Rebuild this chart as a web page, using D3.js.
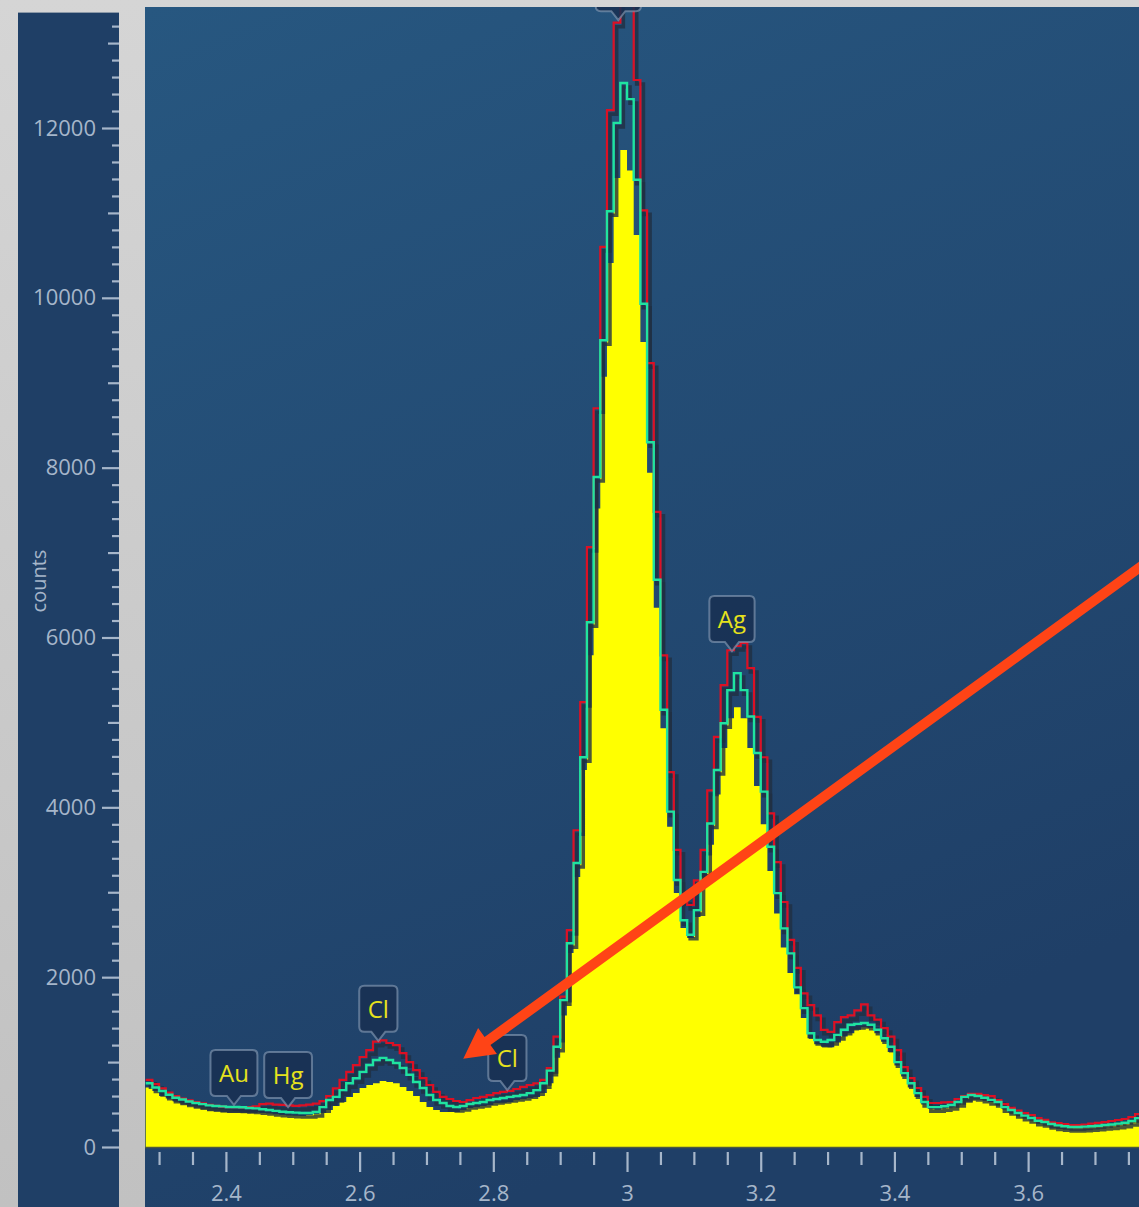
<!DOCTYPE html>
<html><head><meta charset="utf-8">
<script src="https://cdn.jsdelivr.net/npm/d3@7"></script>
<style>
html,body{margin:0;padding:0;overflow:hidden;background:#cfcfcf}
svg{display:block;font-family:"Open Sans","Noto Sans",sans-serif}
</style>
</head><body>
<svg id="c" width="1139" height="1207"></svg>
<script>
// ---------------- data ----------------
const energyStart = 2.28;      // keV, first channel start
const channelWidth = 0.01;     // keV per channel

const spectrumYellow = [
  700, 660, 600, 570, 540, 520, 500, 483, 470, 460,
  450, 440, 436, 425, 415, 410, 405, 400, 395, 385,
  377, 372, 368, 365, 377, 390, 400, 436, 483, 530,
  590, 635, 695, 730, 750, 777, 765, 750, 707, 660,
  600, 530, 471, 436, 412, 412, 412, 436, 460, 471,
  483, 495, 518, 520, 530, 553, 565, 577, 590, 635,
  750, 1050, 1550, 2285, 3180, 4440, 5790, 7520, 9070, 10410,
  11410, 11740, 11500, 10740, 9480, 7940, 6350, 4930, 3770, 2990,
  2580, 2460, 2710, 3180, 3560, 4150, 4700, 5050, 5180, 5050,
  4700, 4250, 3800, 3250, 2750, 2350, 2050, 1800, 1520, 1280,
  1210, 1180, 1175, 1230, 1300, 1340, 1380, 1410, 1400, 1340,
  1240, 1120, 960, 830, 700, 590, 500, 450, 440, 455,
  470, 500, 550, 580, 575, 560, 530, 500, 450, 410,
  380, 350, 320, 295, 275, 255, 240, 230, 225, 225,
  228, 232, 238, 245, 252, 260, 270, 290, 320
];

const spectrumGreen = [
  750, 700, 660, 615, 580, 560, 535, 518, 505, 490,
  483, 478, 471, 471, 468, 460, 455, 445, 436, 425,
  415, 410, 405, 400, 400, 412, 470, 553, 590, 670,
  750, 810, 885, 965, 1025, 1050, 1025, 990, 930, 850,
  765, 695, 612, 553, 518, 483, 471, 483, 506, 518,
  530, 553, 565, 577, 590, 600, 612, 635, 670, 750,
  900, 1180, 1730, 2400, 3345, 4590, 6180, 7890, 9500, 11020,
  12060, 12530, 12340, 11390, 9930, 8300, 6680, 5150, 3950, 3145,
  2670, 2500, 2790, 3240, 3810, 4440, 4990, 5380, 5580, 5380,
  5070, 4640, 4185, 3535, 2990, 2575, 2280, 1880, 1635, 1340,
  1260, 1240, 1260, 1320, 1380, 1440, 1450, 1460, 1440, 1380,
  1280, 1180, 1000, 870, 750, 635, 530, 470, 470, 480,
  495, 530, 590, 612, 600, 580, 555, 530, 470, 436,
  400, 370, 342, 310, 294, 270, 255, 245, 235, 235,
  240, 245, 250, 259, 265, 275, 285, 306, 340
];

const spectrumRed = [
  790, 740, 690, 640, 600, 570, 550, 530, 515, 495,
  485, 475, 470, 470, 465, 470, 480, 505, 510, 500,
  495, 490, 485, 490, 500, 510, 540, 600, 690, 790,
  885, 965, 1060, 1140, 1240, 1255, 1225, 1200, 1105, 1000,
  905, 810, 730, 650, 590, 565, 542, 530, 553, 577,
  590, 612, 635, 650, 660, 683, 707, 730, 750, 790,
  930, 1300, 1770, 2555, 3730, 5240, 7065, 8700, 10600, 12210,
  13240, 14000, 13700, 12565, 11030, 9230, 7480, 5790, 4415, 3500,
  2910, 2850, 3140, 3500, 4200, 4830, 5440, 5850, 5900, 5935,
  5640, 5065, 4590, 3930, 3355, 2885, 2440, 2110, 1810, 1670,
  1550, 1380, 1355, 1470, 1530, 1550, 1610, 1680, 1550, 1500,
  1400, 1300, 1140, 940, 810, 695, 590, 518, 518, 525,
  530, 565, 600, 625, 625, 610, 600, 553, 506, 460,
  430, 400, 377, 340, 320, 290, 280, 270, 259, 259,
  265, 275, 283, 294, 306, 318, 330, 353, 388
];

const yMajorTicks = [0, 2000, 4000, 6000, 8000, 10000, 12000];
const xMajorTicks = [2.4, 2.6, 2.8, 3.0, 3.2, 3.4, 3.6];
const xTickLabels = ["2.4", "2.6", "2.8", "3", "3.2", "3.4", "3.6"];
const yAxisTitle = "counts";

const peakLabelNames    = ["Au", "Hg", "Cl", "Cl", "Ag", "Ag"];
const peakLabelEnergies = [2.412, 2.493, 2.628, 2.821, 3.157, 2.987];
const peakLabelCounts   = [495, 470, 1250, 670, 5840, 13270];

const arrowFrom = {energy: 3.78, counts: 6900};
const arrowTo   = {energy: 2.755, counts: 1040};

// ---------------- drawing ----------------
const W = 1139, H = 1207;
const svg = d3.select("#c");
const defs = svg.append("defs");

const pageGrad = defs.append("linearGradient").attr("id", "pageBg")
  .attr("x1", 0).attr("y1", 0).attr("x2", 0).attr("y2", 1);
pageGrad.append("stop").attr("offset", 0).attr("stop-color", "#d5d5d5");
pageGrad.append("stop").attr("offset", 1).attr("stop-color", "#c1c1c1");
svg.append("rect").attr("width", W).attr("height", H).attr("fill", "url(#pageBg)");

// left axis panel
svg.append("rect").attr("x", 18).attr("y", 12).attr("width", 101).attr("height", H - 12)
  .attr("fill", "#1f3f66");
svg.append("line").attr("x1", 18).attr("x2", 119).attr("y1", 12.5).attr("y2", 12.5)
  .attr("stroke", "#8c99a8").attr("stroke-width", 1);

// plot panel
const plotGrad = defs.append("linearGradient").attr("id", "plotBg")
  .attr("x1", 0).attr("y1", 0).attr("x2", 0.35).attr("y2", 1);
plotGrad.append("stop").attr("offset", 0).attr("stop-color", "#275780");
plotGrad.append("stop").attr("offset", 1).attr("stop-color", "#1f3f67");
const plotLeft = 145, plotTop = 7;
svg.append("rect").attr("x", plotLeft).attr("y", plotTop).attr("width", W - plotLeft)
  .attr("height", H - plotTop).attr("fill", "url(#plotBg)");

// scales
const x = d3.scaleLinear().domain([2.28, 3.77]).range([145.7, 145.7 + 1.49 * 668.5]);
const y = d3.scaleLinear().domain([0, 12000]).range([1147, 128]);

defs.append("clipPath").attr("id", "plotClip").append("rect")
  .attr("x", plotLeft).attr("y", plotTop).attr("width", W - plotLeft).attr("height", y(0) - plotTop);
defs.append("clipPath").attr("id", "panelClip").append("rect")
  .attr("x", plotLeft).attr("y", plotTop).attr("width", W - plotLeft).attr("height", H - plotTop);

function toPoints(arr) {
  const p = arr.map((v, i) => [energyStart + i * channelWidth, v]);
  p.push([energyStart + arr.length * channelWidth, arr[arr.length - 1]]);
  return p;
}

const gData = svg.append("g").attr("clip-path", "url(#plotClip)");
const area = d3.area().x(d => x(d[0])).y0(y(0)).y1(d => y(d[1])).curve(d3.curveStepAfter);
const line = d3.line().x(d => x(d[0])).y(d => y(d[1])).curve(d3.curveStepAfter);

gData.append("path").attr("d", area(toPoints(spectrumYellow))).attr("fill", "#ffff00");

// shadows
[spectrumRed, spectrumGreen].forEach(s => {
  gData.append("path").attr("d", line(toPoints(s)))
    .attr("transform", "translate(3,4)")
    .attr("fill", "none").attr("stroke", "rgba(32,48,66,0.8)").attr("stroke-width", 3.6);
});
gData.append("path").attr("d", line(toPoints(spectrumRed)))
  .attr("fill", "none").attr("stroke", "#dc1024").attr("stroke-width", 2.2);
gData.append("path").attr("d", line(toPoints(spectrumGreen)))
  .attr("fill", "none").attr("stroke", "#1fe3a0").attr("stroke-width", 2.4);

// baseline under yellow
svg.append("line").attr("x1", plotLeft).attr("x2", W).attr("y1", y(0) + 0.5).attr("y2", y(0) + 0.5)
  .attr("stroke", "#4e5a3c").attr("stroke-width", 1.5);

// peak labels
const gLab = svg.append("g").attr("clip-path", "url(#panelClip)");
peakLabelNames.forEach((name, i) => {
  const tx = x(peakLabelEnergies[i]), ty = y(peakLabelCounts[i]);
  const g = gLab.append("g");
  const path = g.append("path");
  const t = g.append("text").text(name).attr("font-size", 24).attr("fill", "#e6e21c")
    .attr("text-anchor", "middle");
  const tw = t.node().getComputedTextLength();
  const w = tw + 17, h = 46, nd = 9, nh = 7, r = 5;
  const bottom = ty - nd, top = bottom - h, left = tx - w / 2, right = tx + w / 2;
  const p = d3.path();
  p.moveTo(left + r, top);
  p.lineTo(right - r, top);
  p.quadraticCurveTo(right, top, right, top + r);
  p.lineTo(right, bottom - r);
  p.quadraticCurveTo(right, bottom, right - r, bottom);
  p.lineTo(tx + nh, bottom);
  p.lineTo(tx, ty);
  p.lineTo(tx - nh, bottom);
  p.lineTo(left + r, bottom);
  p.quadraticCurveTo(left, bottom, left, bottom - r);
  p.lineTo(left, top + r);
  p.quadraticCurveTo(left, top, left + r, top);
  p.closePath();
  path.attr("d", p.toString()).attr("fill", "rgba(24,48,82,0.88)")
    .attr("stroke", "rgba(140,160,185,0.6)").attr("stroke-width", 2);
  // a label whose box runs off the top of the panel shows only its pointer
  if (top < plotTop) t.remove();
  else t.attr("x", tx).attr("y", top + 32);
});

// y axis (left panel)
const tickColor = "#a6b6ca";
const yMinor = d3.range(200, 13400, 200).filter(v => v % 1000 !== 0);
const yMid = d3.range(1000, 13400, 2000);
function styleAxis(g) {
  g.select(".domain").remove();
  g.selectAll(".tick line").attr("stroke", tickColor).attr("stroke-width", 2.2);
  g.selectAll(".tick text").attr("fill", tickColor).attr("font-size", 22)
    .attr("font-family", "'Open Sans','Noto Sans',sans-serif");
}
svg.append("g").attr("transform", "translate(119,0)")
  .call(d3.axisLeft(y).tickValues(yMinor).tickSize(7).tickFormat(""))
  .call(styleAxis);
svg.append("g").attr("transform", "translate(119,0)")
  .call(d3.axisLeft(y).tickValues(yMid).tickSize(11).tickFormat(""))
  .call(styleAxis);
svg.append("g").attr("transform", "translate(119,0)")
  .call(d3.axisLeft(y).tickValues(yMajorTicks).tickSize(17).tickPadding(6).tickFormat(d3.format("d")))
  .call(styleAxis);

svg.append("text").text(yAxisTitle)
  .attr("transform", "translate(46,581) rotate(-90)")
  .attr("text-anchor", "middle").attr("font-size", 20).attr("fill", tickColor);

// x axis
const xMinor = d3.range(2.30, 3.79, 0.05).map(v => +v.toFixed(2))
  .filter(v => !xMajorTicks.some(m => Math.abs(m - v) < 1e-6));
svg.append("g").attr("transform", "translate(0,1152)")
  .call(d3.axisBottom(x).tickValues(xMinor).tickSize(13).tickFormat(""))
  .call(styleAxis);
svg.append("g").attr("transform", "translate(0,1152)")
  .call(d3.axisBottom(x).tickValues(xMajorTicks).tickSize(20).tickPadding(13)
    .tickFormat((d, i) => xTickLabels[i]))
  .call(styleAxis);

// annotation arrow
const a0 = [x(arrowFrom.energy), y(arrowFrom.counts)];
const a1 = [x(arrowTo.energy), y(arrowTo.counts)];
const dx = a1[0] - a0[0], dy = a1[1] - a0[1], len = Math.hypot(dx, dy);
const u = [dx / len, dy / len], n = [-u[1], u[0]];
const headLen = 30, headHalf = 16, shaftHalf = 5;
const base = [a1[0] - u[0] * headLen, a1[1] - u[1] * headLen];
const P = (pt, k) => [pt[0] + n[0] * k, pt[1] + n[1] * k];
const arrowPts = [P(a0, shaftHalf), P(base, shaftHalf), P(base, headHalf), a1,
  P(base, -headHalf), P(base, -shaftHalf), P(a0, -shaftHalf)];
svg.append("g").attr("clip-path", "url(#panelClip)").append("polygon")
  .attr("points", arrowPts.map(p => p.join(",")).join(" "))
  .attr("fill", "#ff4416");
</script>
</body></html>
